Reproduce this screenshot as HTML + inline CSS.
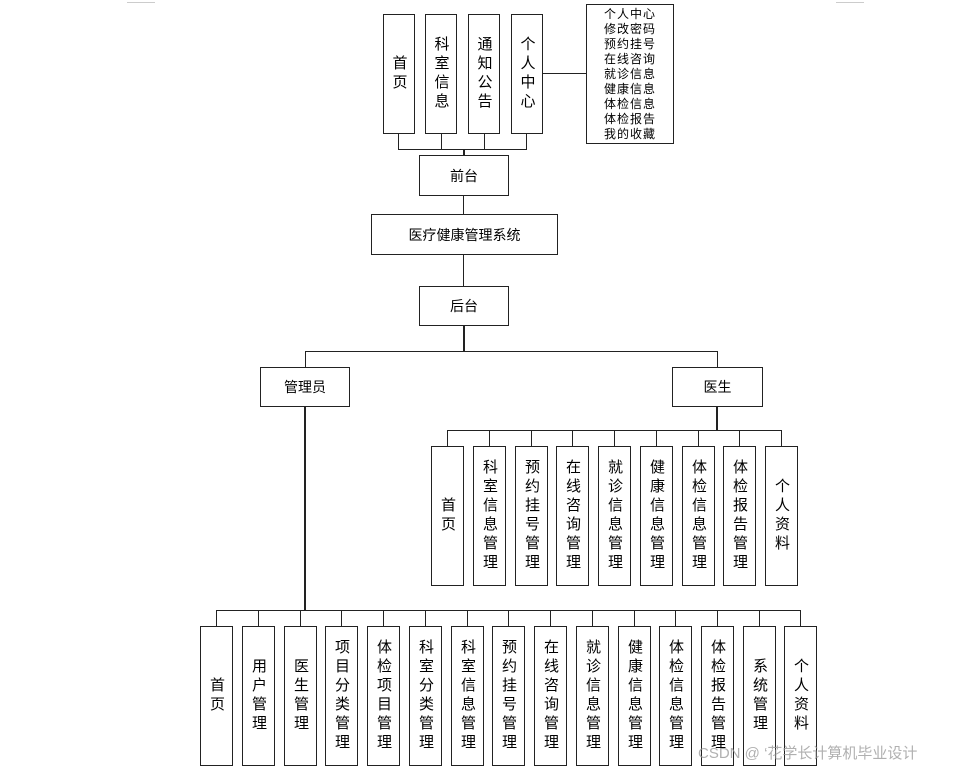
<!DOCTYPE html>
<html><head><meta charset="utf-8"><style>
body{margin:0;width:980px;height:772px;background:#fff;position:relative;overflow:hidden;font-family:"Liberation Sans","Noto Sans CJK SC",sans-serif;color:#000}
.b{position:absolute;border:1.5px solid #222;box-sizing:border-box;display:flex;align-items:center;justify-content:center;background:#fff;font-size:14px}
.v{writing-mode:vertical-rl;letter-spacing:4px;font-size:15px}
.l{position:absolute;background:#222}
</style></head><body>
<div class="l" style="left:127px;top:2px;width:28px;height:1px;background:#ccc"></div>
<div class="l" style="left:836px;top:2px;width:28px;height:1px;background:#ccc"></div>
<!-- top -->
<div class="b v" style="left:383px;top:14px;width:32px;height:120px">首页</div>
<div class="b v" style="left:425px;top:14px;width:32px;height:120px">科室信息</div>
<div class="b v" style="left:468px;top:14px;width:32px;height:120px">通知公告</div>
<div class="b v" style="left:511px;top:14px;width:32px;height:120px">个人中心</div>
<div class="b" style="left:586px;top:4px;width:88px;height:140px;font-size:12px;line-height:15px;text-align:center;letter-spacing:1px">个人中心<br>修改密码<br>预约挂号<br>在线咨询<br>就诊信息<br>健康信息<br>体检信息<br>体检报告<br>我的收藏</div>
<div class="l" style="left:543px;top:73px;width:43px;height:1px"></div>
<div class="l" style="left:398px;top:134px;width:1px;height:16px"></div>
<div class="l" style="left:441px;top:134px;width:1px;height:16px"></div>
<div class="l" style="left:484px;top:134px;width:1px;height:16px"></div>
<div class="l" style="left:526px;top:134px;width:1px;height:16px"></div>
<div class="l" style="left:398px;top:149px;width:129px;height:1px"></div>
<div class="l" style="left:463px;top:149px;width:2px;height:6px"></div>
<div class="b" style="left:419px;top:155px;width:90px;height:41px">前台</div>
<div class="l" style="left:463px;top:196px;width:1px;height:18px"></div>
<div class="b" style="left:371px;top:214px;width:187px;height:41px">医疗健康管理系统</div>
<div class="l" style="left:463px;top:255px;width:1px;height:31px"></div>
<div class="b" style="left:419px;top:286px;width:90px;height:40px">后台</div>
<div class="l" style="left:463px;top:326px;width:2px;height:26px"></div>
<div class="l" style="left:305px;top:351px;width:413px;height:1px"></div>
<div class="l" style="left:305px;top:351px;width:1px;height:16px"></div>
<div class="l" style="left:717px;top:351px;width:1px;height:16px"></div>
<div class="b" style="left:260px;top:367px;width:90px;height:40px">管理员</div>
<div class="b" style="left:672px;top:367px;width:91px;height:40px">医生</div>
<!-- doctor -->
<div class="l" style="left:716px;top:407px;width:2px;height:23px"></div>
<div class="l" style="left:447px;top:430px;width:335px;height:1px"></div>
<div class="l" style="left:447px;top:430px;width:1px;height:16px"></div>
<div class="l" style="left:489px;top:430px;width:1px;height:16px"></div>
<div class="l" style="left:531px;top:430px;width:1px;height:16px"></div>
<div class="l" style="left:572px;top:430px;width:1px;height:16px"></div>
<div class="l" style="left:614px;top:430px;width:1px;height:16px"></div>
<div class="l" style="left:656px;top:430px;width:1px;height:16px"></div>
<div class="l" style="left:698px;top:430px;width:1px;height:16px"></div>
<div class="l" style="left:739px;top:430px;width:1px;height:16px"></div>
<div class="l" style="left:781px;top:430px;width:1px;height:16px"></div>
<div class="b v" style="left:431px;top:446px;width:33px;height:140px">首页</div>
<div class="b v" style="left:473px;top:446px;width:33px;height:140px">科室信息管理</div>
<div class="b v" style="left:515px;top:446px;width:33px;height:140px">预约挂号管理</div>
<div class="b v" style="left:556px;top:446px;width:33px;height:140px">在线咨询管理</div>
<div class="b v" style="left:598px;top:446px;width:33px;height:140px">就诊信息管理</div>
<div class="b v" style="left:640px;top:446px;width:33px;height:140px">健康信息管理</div>
<div class="b v" style="left:682px;top:446px;width:33px;height:140px">体检信息管理</div>
<div class="b v" style="left:723px;top:446px;width:33px;height:140px">体检报告管理</div>
<div class="b v" style="left:765px;top:446px;width:33px;height:140px">个人资料</div>
<!-- admin -->
<div class="l" style="left:304px;top:407px;width:2px;height:203px"></div>
<div class="l" style="left:216px;top:610px;width:585px;height:1px"></div>
<div class="l" style="left:216px;top:610px;width:1px;height:16px"></div>
<div class="l" style="left:258px;top:610px;width:1px;height:16px"></div>
<div class="l" style="left:300px;top:610px;width:1px;height:16px"></div>
<div class="l" style="left:341px;top:610px;width:1px;height:16px"></div>
<div class="l" style="left:383px;top:610px;width:1px;height:16px"></div>
<div class="l" style="left:425px;top:610px;width:1px;height:16px"></div>
<div class="l" style="left:467px;top:610px;width:1px;height:16px"></div>
<div class="l" style="left:508px;top:610px;width:1px;height:16px"></div>
<div class="l" style="left:550px;top:610px;width:1px;height:16px"></div>
<div class="l" style="left:592px;top:610px;width:1px;height:16px"></div>
<div class="l" style="left:634px;top:610px;width:1px;height:16px"></div>
<div class="l" style="left:675px;top:610px;width:1px;height:16px"></div>
<div class="l" style="left:717px;top:610px;width:1px;height:16px"></div>
<div class="l" style="left:759px;top:610px;width:1px;height:16px"></div>
<div class="l" style="left:800px;top:610px;width:1px;height:16px"></div>
<div class="b v" style="left:200px;top:626px;width:33px;height:140px">首页</div>
<div class="b v" style="left:242px;top:626px;width:33px;height:140px">用户管理</div>
<div class="b v" style="left:284px;top:626px;width:33px;height:140px">医生管理</div>
<div class="b v" style="left:325px;top:626px;width:33px;height:140px">项目分类管理</div>
<div class="b v" style="left:367px;top:626px;width:33px;height:140px">体检项目管理</div>
<div class="b v" style="left:409px;top:626px;width:33px;height:140px">科室分类管理</div>
<div class="b v" style="left:451px;top:626px;width:33px;height:140px">科室信息管理</div>
<div class="b v" style="left:492px;top:626px;width:33px;height:140px">预约挂号管理</div>
<div class="b v" style="left:534px;top:626px;width:33px;height:140px">在线咨询管理</div>
<div class="b v" style="left:576px;top:626px;width:33px;height:140px">就诊信息管理</div>
<div class="b v" style="left:618px;top:626px;width:33px;height:140px">健康信息管理</div>
<div class="b v" style="left:659px;top:626px;width:33px;height:140px">体检信息管理</div>
<div class="b v" style="left:701px;top:626px;width:33px;height:140px">体检报告管理</div>
<div class="b v" style="left:743px;top:626px;width:33px;height:140px">系统管理</div>
<div class="b v" style="left:784px;top:626px;width:33px;height:140px">个人资料</div>
<div style="position:absolute;left:698px;top:742px;font-size:15px;color:rgba(150,150,150,0.75);white-space:nowrap">CSDN @ &lsquo;花学长计算机毕业设计</div>
</body></html>
